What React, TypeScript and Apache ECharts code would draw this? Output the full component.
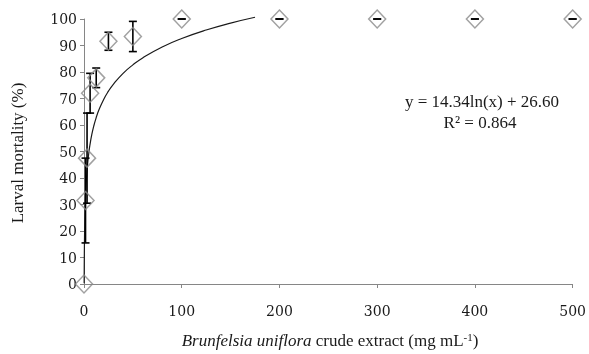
import React, { useEffect, useRef } from "react";
import * as echarts from "echarts";

const concentrations = [0, 1.56, 3.125, 6.25, 12.5, 25, 50, 100, 200, 300, 400, 500];
const mortality = [0, 31.5, 47.5, 72, 77.8, 91.6, 93.4, 100, 100, 100, 100, 100];
const errorValues: (number | null)[] = [null, 16, 17, 7.5, 3.7, 3.4, 5.7, 0, 0, 0, 0, 0];

const trendA = 14.34;
const trendB = 26.6;
const trendX = [0.16, 0.2, 0.3, 0.4, 0.5, 0.75, 1, 1.5, 2, 3, 4, 5, 6, 8, 10, 12.5, 15, 20, 25, 30, 40, 50, 60, 80, 100, 125, 150, 175];

const equationText = "y = 14.34ln(x) + 26.60";
const r2Text = "R² = 0.864";

const FONT = "'Liberation Serif', 'Times New Roman', serif";
const TICK_FONT = "'DejaVu Serif', serif";

export default function App() {
  const ref = useRef<HTMLDivElement>(null);
  useEffect(() => {
    if (!ref.current) return;
    const chart = echarts.init(ref.current, null, { renderer: "svg" });
    const trendData = trendX.map((x) => [x, trendA * Math.log(x) + trendB]);
    const errData = concentrations
      .map((x, i) => (errorValues[i] === null ? null : [x, mortality[i] - (errorValues[i] as number), mortality[i] + (errorValues[i] as number)]))
      .filter((d) => d !== null);
    const barStyle = { stroke: "#000", lineWidth: 1.6 };
    chart.setOption({
      animation: false,
      grid: { left: 84, right: 14, top: 19, bottom: 70, containLabel: false },
      xAxis: {
        type: "value",
        min: 0,
        max: 500,
        interval: 100,
        axisLine: { show: true, lineStyle: { color: "#868686", width: 1 } },
        axisTick: { show: true, length: 4, inside: false, lineStyle: { color: "#868686" } },
        splitLine: { show: false },
        axisLabel: { margin: 20, color: "#1a1a1a", fontFamily: TICK_FONT, fontSize: 14 },
      },
      yAxis: {
        type: "value",
        min: 0,
        max: 100,
        interval: 10,
        axisLine: { show: true, lineStyle: { color: "#868686", width: 1 } },
        axisTick: { show: true, length: 4, lineStyle: { color: "#868686" } },
        splitLine: { show: false },
        axisLabel: { margin: 7, color: "#1a1a1a", fontFamily: TICK_FONT, fontSize: 14 },
      },
      graphic: [
        {
          type: "text",
          x: 17.5,
          y: 153,
          rotation: Math.PI / 2,
          style: {
            text: "Larval mortality (%)",
            fill: "#1a1a1a",
            font: `17px ${FONT}`,
            textAlign: "center",
            textVerticalAlign: "middle",
          },
        },
        {
          type: "text",
          x: 330,
          y: 340,
          style: {
            text: "{i|Brunfelsia uniflora} crude extract (mg mL{s|-1})",
            fill: "#1a1a1a",
            font: `17px ${FONT}`,
            textAlign: "center",
            textVerticalAlign: "middle",
            rich: {
              i: { fontStyle: "italic", fontFamily: FONT, fontSize: 17, fill: "#1a1a1a" },
              s: { fontFamily: FONT, fontSize: 11, fill: "#1a1a1a", verticalAlign: "top", padding: [0, 0, 7, 0] },
            },
          },
        },
        {
          type: "text",
          x: 482,
          y: 101,
          style: { text: equationText, fill: "#1a1a1a", font: `17px ${FONT}`, textAlign: "center", textVerticalAlign: "middle" },
        },
        {
          type: "text",
          x: 480,
          y: 122,
          style: { text: r2Text, fill: "#1a1a1a", font: `17px ${FONT}`, textAlign: "center", textVerticalAlign: "middle" },
        },
      ],
      series: [
        {
          type: "line",
          data: trendData,
          showSymbol: false,
          smooth: true,
          clip: false,
          lineStyle: { color: "#1a1a1a", width: 1.2 },
          z: 2,
        },
        {
          type: "custom",
          data: errData,
          encode: { x: 0, y: [1, 2] },
          z: 3,
          renderItem: (params: any, api: any) => {
            const x = api.value(0);
            const lo = api.value(1);
            const hi = api.value(2);
            const pLo = api.coord([x, lo]);
            const pHi = api.coord([x, hi]);
            const cap = 4;
            return {
              type: "group",
              children: [
                { type: "line", shape: { x1: pLo[0], y1: pLo[1], x2: pHi[0], y2: pHi[1] }, style: barStyle },
                { type: "line", shape: { x1: pLo[0] - cap, y1: pLo[1], x2: pLo[0] + cap, y2: pLo[1] }, style: barStyle },
                { type: "line", shape: { x1: pHi[0] - cap, y1: pHi[1], x2: pHi[0] + cap, y2: pHi[1] }, style: barStyle },
              ],
            };
          },
        },
        {
          type: "scatter",
          data: concentrations.map((x, i) => [x, mortality[i]]),
          symbol: "diamond",
          symbolSize: [17, 18],
          clip: false,
          itemStyle: { color: "rgba(0,0,0,0)", borderColor: "#8a8a8a", borderWidth: 1.5 },
          z: 4,
        },
      ],
    });
    return () => chart.dispose();
  }, []);
  return <div ref={ref} style={{ position: "fixed", left: 0, top: 0, width: 589, height: 354 }} />;
}
